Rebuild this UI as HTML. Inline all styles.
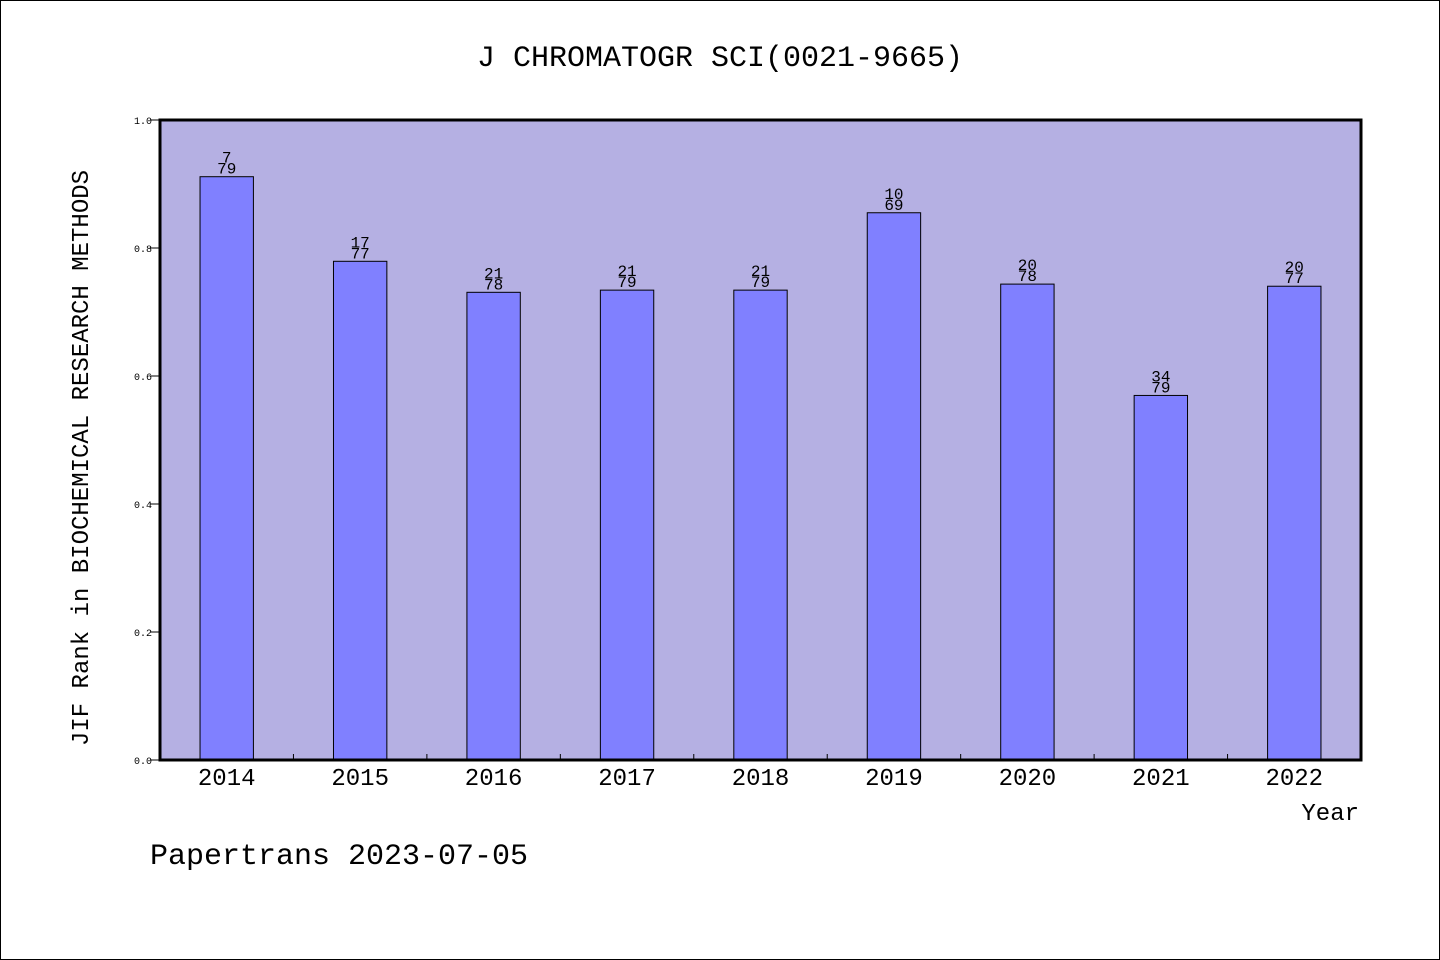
<!DOCTYPE html>
<html><head><meta charset="utf-8"><style>
html,body{margin:0;padding:0;background:#fff}
svg{display:block}
text{font-family:"WenQuanYi Zen Hei","Liberation Mono",monospace;fill:#000}
</style></head><body>
<svg id="chart" width="1440" height="960" xmlns="http://www.w3.org/2000/svg">
<rect x="0.5" y="0.5" width="1439" height="959" fill="#fff" stroke="#000"/>
<text x="720" y="66" font-size="30" text-anchor="middle">J CHROMATOGR SCI(0021-9665)</text>
<rect x="160" y="120" width="1201" height="640" fill="#b5b0e3"/>
<g id="yaxis"></g>
<g id="bars"></g>
<g id="xaxis"></g>
<rect x="160" y="120" width="1201" height="640" fill="none" stroke="#000" stroke-width="3"/>
<text x="0" y="0" font-size="24" text-anchor="middle" transform="translate(88,458) rotate(-90)">JIF Rank in BIOCHEMICAL RESEARCH METHODS</text>
<text x="1359" y="820" font-size="24" text-anchor="end">Year</text>
<text x="150" y="864" font-size="30">Papertrans 2023-07-05</text>
</svg>
<script>
const years=["2014","2015","2016","2017","2018","2019","2020","2021","2022"];
const ranks=[7,17,21,21,21,10,20,34,20];
const totals=[79,77,78,79,79,69,78,79,77];
const yTicks=[0,0.2,0.4,0.6,0.8,1.0];
const NS="http://www.w3.org/2000/svg";
const X0=160,X1=1361,Y0=760,Y1=120;
const band=(X1-X0)/years.length;
const yScale=v=>Y0-(Y0-Y1)*v;
const xCenter=i=>X0+band*(i+0.5);
function mk(tag,attrs,parent){const e=document.createElementNS(NS,tag);for(const k in attrs)e.setAttribute(k,attrs[k]);parent.appendChild(e);return e;}
const ya=document.getElementById('yaxis'),bg=document.getElementById('bars'),xa=document.getElementById('xaxis');
yTicks.forEach(t=>{
  const y=yScale(t);
  const l=mk('line',{x1:150,x2:160,y1:y,y2:y,stroke:'#000','stroke-width':1},ya);
  
  
  const tx=mk('text',{x:152,y:y+4,'font-size':10,'text-anchor':'end'},ya);
  tx.textContent=t.toFixed(1);
  
  
});
years.forEach((yr,i)=>{
  const v=1-ranks[i]/totals[i];
  const cx=xCenter(i),w=band*0.4,top=yScale(v);
  const r=mk('rect',{x:cx-w/2,y:top,width:w,height:Y0-top,fill:'#8080ff',stroke:'#000','stroke-width':1},bg);
  
  
  const t1=mk('text',{x:cx,y:top-14,'font-size':16,'text-anchor':'middle'},bg);
  t1.textContent=ranks[i];
  
  
  const t2=mk('text',{x:cx,y:top-3,'font-size':16,'text-anchor':'middle'},bg);
  t2.textContent=totals[i];
  
  
  const xl=mk('text',{x:cx,y:785,'font-size':24,'text-anchor':'middle'},xa);
  xl.textContent=yr;
  
  
  if(i>0){
    const bx=X0+band*i;
    const tk=mk('line',{x1:bx,x2:bx,y1:Y0,y2:Y0-6,stroke:'#000','stroke-width':1},xa);
    
    
  }
});
</script>
</body></html>
